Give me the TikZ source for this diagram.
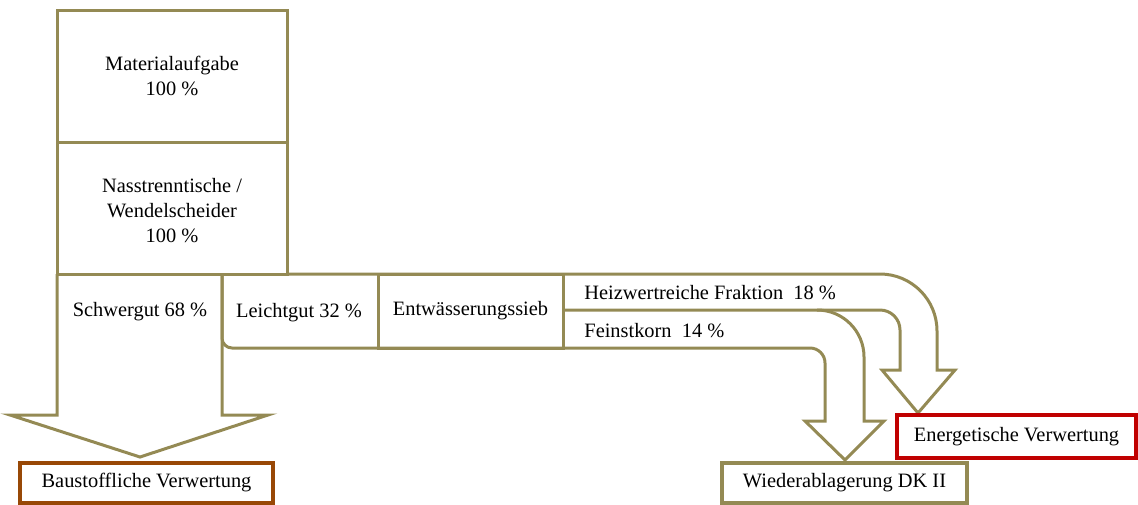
\documentclass[tikz,border=0pt]{standalone}
\usepackage{fontspec}
\setmainfont{Liberation Serif}
\usepackage{tikz}
\usetikzlibrary{positioning}

\definecolor{olivebrd}{HTML}{948A54}
\definecolor{brownbrd}{HTML}{984806}
\definecolor{redbrd}{HTML}{C00000}

\begin{document}
\begin{tikzpicture}[
		x=0.5pt, y=0.5pt,
		font=\fontsize{10.2}{12.5}\selectfont,
		stage/.style={
			rectangle,
			draw=olivebrd,
			line width=1.5pt,
			align=center,
			inner sep=0pt,
			minimum width=115pt,
			minimum height=66pt
		},
		target/.style={
			rectangle,
			line width=2pt,
			align=center,
			inner sep=0pt,
			minimum height=20pt
		},
		flow/.style={
			draw=olivebrd,
			line width=1.5pt,
			line join=miter
		},
		label/.style={
			inner sep=0pt,
			align=center
		}
		]
		
		\useasboundingbox (0,0) rectangle (1138,-504);
		
		% stages on top
		\node[stage] (mat) at (172,-76) {Materialaufgabe\\100~\%};
		\node[stage] (nass) at (172,-208) {};
		\node[label] at (172,-211) {Nasstrenntische /\\Wendelscheider\\100~\%};
		
		\node[stage, minimum width=92.5pt, minimum height=37pt] (sieb) at (470.5,-311) {Entw\"asserungssieb};
		
		% flow bands
		\draw[flow] (57,-274) -- (57,-415) -- (10,-415) -- (140,-457)
			-- (268,-415) -- (222,-415) -- (222,-274);
		
		\draw[flow] (287,-274) -- (880,-274)
			arc[start angle=90, end angle=0, radius=28.5pt]
			-- (937,-370) -- (955,-370) -- (918,-413) -- (882,-370) -- (900,-370)
			-- (900,-330)
			arc[start angle=0, end angle=90, radius=10pt]
			-- (563,-310);
		
		\draw[flow] (222,-274) -- (222,-338)
			arc[start angle=180, end angle=270, radius=5pt]
			-- (810,-348)
			arc[start angle=90, end angle=0, radius=7.5pt]
			-- (825,-421) -- (805,-421) -- (845,-460) -- (884,-421) -- (864,-421)
			-- (864,-357)
			arc[start angle=0, end angle=90, radius=23.5pt];
		
		% band labels
		\node[label] (schwer) at (140,-312) {Schwergut 68~\%};
		\node[label] (leicht) at (299,-313) {Leichtgut 32~\%};
		\node[label, anchor=west] (heiz) at (584,-293) {Heizwertreiche Fraktion\ \ 18~\%};
		\node[label, anchor=west] (fein) at (584,-331) {Feinstkorn\ \ 14~\%};
		
		% targets
		\node[target, draw=brownbrd, minimum width=126.5pt] (bau) at (146.5,-483) {Baustoffliche Verwertung};
		\node[target, draw=olivebrd, minimum width=122.5pt] (dk) at (844.5,-483) {Wiederablagerung DK II};
		\node[target, draw=redbrd, minimum width=119.5pt, minimum height=21.5pt] (energ) at (1016.5,-436.5) {Energetische Verwertung};
		
	\end{tikzpicture}
\end{document}
